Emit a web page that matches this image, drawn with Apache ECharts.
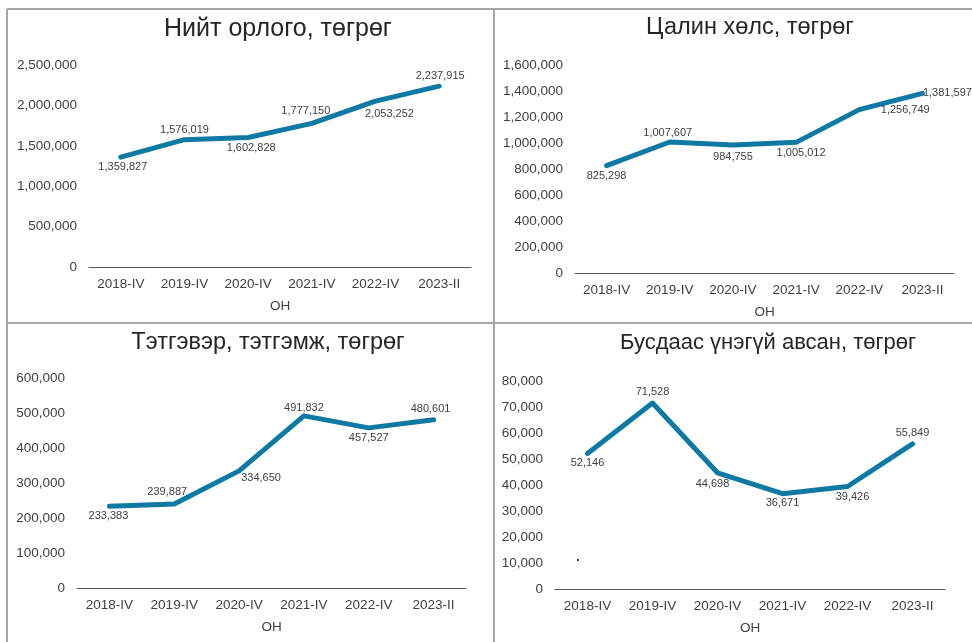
<!DOCTYPE html>
<html>
<head>
<meta charset="utf-8">
<script src="https://cdn.jsdelivr.net/npm/echarts@6/dist/echarts.min.js"></script>
<style>
  html, body { margin: 0; padding: 0; background: #fff; }
  #chart { width: 972px; height: 642px; }
</style>
</head>
<body>
<div id="chart"></div>
<script>
// categories shared by all four panels
var periods = ['2018-IV', '2019-IV', '2020-IV', '2021-IV', '2022-IV', '2023-II'];

var titles = ['Нийт орлого, төгрөг', 'Цалин хөлс, төгрөг', 'Тэтгэвэр, тэтгэмж, төгрөг', 'Бусдаас үнэгүй авсан, төгрөг'];

var totalIncome = [1359827, 1576019, 1602828, 1777150, 2053252, 2237915];
var wages = [825298, 1007607, 984755, 1005012, 1256749, 1381597];
var pensions = [233383, 239887, 334650, 491832, 457527, 480601];
var freeReceived = [52146, 71528, 44698, 36671, 39426, 55849];

var yMax = [2500000, 1600000, 600000, 80000];
var yStep = [500000, 200000, 100000, 10000];

// label offsets from each point (px)
var labelShift = [
  [[2, 10], [0, -10], [3, 10], [-6, -12], [14, 13], [1, -10]],
  [[0, 10], [-2, -9], [0, 12], [5, 11], [46, 0], [25, 0]],
  [[-1, 10], [-7, -12], [22, 7], [0, -8], [0, 10], [-3, -11]],
  [[0, 10], [0, -11], [-5, 11], [0, 9], [5, 10], [0, -11]]
];

var FONT = '"Liberation Sans", Arial, sans-serif';
var LINE = '#0e7aa4';
var TXT = '#404040';

var grids = [
  { left: 89, right: 501, top: 65, bottom: 375 },
  { left: 575, right: 18, top: 65, bottom: 369 },
  { left: 77, right: 506, top: 378, bottom: 54 },
  { left: 555, right: 27, top: 381, bottom: 53 }
];
var titlePos = [[273, 12], [745, 11], [263, 326], [763, 327]];
var titleSize = [25, 23.5, 23.5, 22];
var allSeries = [totalIncome, wages, pensions, freeReceived];

function fmt(v) { return v.toLocaleString('en-US'); }

var option = {
  backgroundColor: '#fff',
  animation: false,
  textStyle: { fontFamily: FONT },
  title: titles.map(function (t, i) {
    return {
      text: t, left: titlePos[i][0], top: titlePos[i][1], textAlign: 'center',
      textStyle: { fontFamily: FONT, fontSize: titleSize[i], fontWeight: 'normal', color: '#262626' }
    };
  }),
  grid: grids,
  xAxis: grids.map(function (g, i) {
    return {
      type: 'category', gridIndex: i, data: periods,
      name: 'ОН', nameLocation: 'middle', nameGap: 32,
      nameTextStyle: { fontFamily: FONT, fontSize: 13.5, color: TXT },
      axisLine: { lineStyle: { color: '#595959', width: 1 } },
      axisTick: { show: false },
      axisLabel: { margin: 10, fontFamily: FONT, fontSize: 13.5, color: TXT }
    };
  }),
  yAxis: grids.map(function (g, i) {
    return {
      type: 'value', gridIndex: i, min: 0, max: yMax[i], interval: yStep[i],
      axisLine: { show: false }, axisTick: { show: false }, splitLine: { show: false },
      axisLabel: { margin: 12, fontFamily: FONT, fontSize: 13.5, color: TXT, formatter: fmt }
    };
  }),
  series: allSeries.map(function (vals, i) {
    return {
      type: 'line', xAxisIndex: i, yAxisIndex: i,
      symbol: 'circle', symbolSize: 1,
      itemStyle: { color: LINE },
      lineStyle: { color: LINE, width: 5, cap: 'round', join: 'round' },
      data: vals.map(function (v, k) {
        return {
          value: v,
          label: { show: true, position: 'inside', offset: labelShift[i][k],
            formatter: function (p) { return fmt(p.value); },
            fontFamily: FONT, fontSize: 11, color: TXT }
        };
      })
    };
  }),
  graphic: [
    { type: 'line', shape: { x1: 7, y1: 9, x2: 972, y2: 9 }, style: { stroke: '#a6a6a6', lineWidth: 2 } },
    { type: 'line', shape: { x1: 7, y1: 323, x2: 972, y2: 323 }, style: { stroke: '#a6a6a6', lineWidth: 2 } },
    { type: 'line', shape: { x1: 7, y1: 9, x2: 7, y2: 642 }, style: { stroke: '#a6a6a6', lineWidth: 2 } },
    { type: 'line', shape: { x1: 494, y1: 9, x2: 494, y2: 642 }, style: { stroke: '#a6a6a6', lineWidth: 2 } },
    { type: 'circle', shape: { cx: 578, cy: 560, r: 1 }, style: { fill: '#000' } }
  ]
};

var chart = echarts.init(document.getElementById('chart'));
chart.setOption(option);
</script>
</body>
</html>
